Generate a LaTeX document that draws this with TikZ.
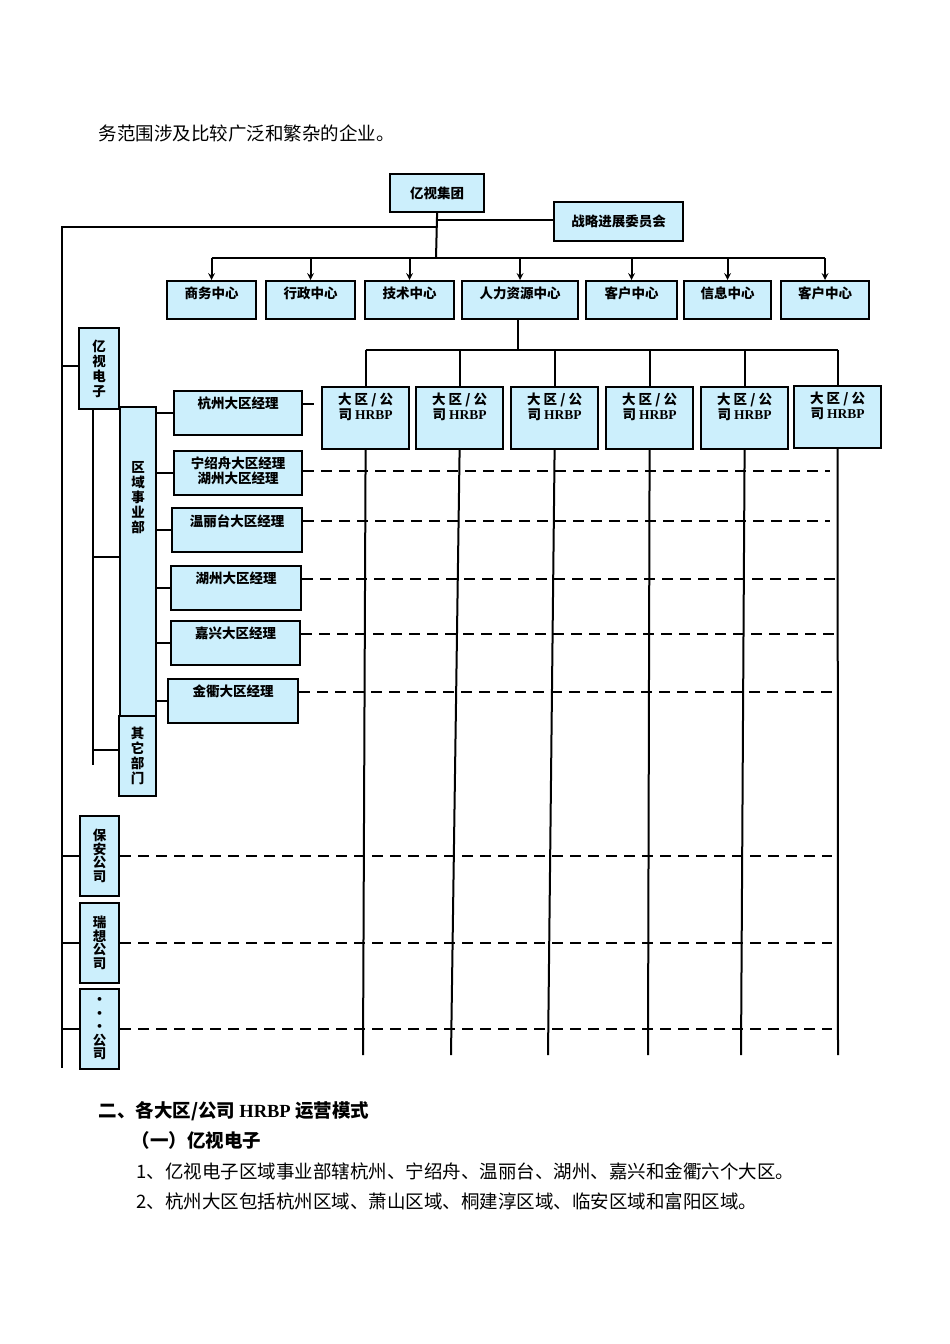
\documentclass[tikz,border=0pt]{standalone}
\usepackage{fontspec}
\setmainfont{Liberation Serif}
\newfontfamily\cjk{Noto Sans CJK SC}
\usetikzlibrary{positioning}
\tikzset{
  box/.style={draw=black,line width=2.2pt,fill=cyan!20,anchor=north west,inner sep=0pt},
  lbl/.style={font=\cjk\fontsize{13.5}{15}\selectfont\bfseries,align=center,inner sep=0pt},
  link/.style={line width=2pt,black},
  dashln/.style={line width=2pt,black,dash pattern=on 11pt off 7pt},
}
% box macro: name, x, y, width, height
\newcommand{\bx}[5]{\node[box,minimum width=#4pt,minimum height=#5pt] (#1) at (#2,#3) {};}
\begin{document}
\begin{tikzpicture}[x=1pt,y=-1pt]
  \useasboundingbox (0,0) rectangle (950,1344);
  \node[anchor=west,font=\cjk\fontsize{18.5}{20}\selectfont] (intro) at (95,133) {务范围涉及比较广泛和繁杂的企业。};

  % top
  \bx{grp}{389}{173}{94}{38}
  \node[lbl] (tgrp) at (grp.center) {亿视集团};
  \bx{cmt}{553}{201}{129}{39}
  \node[lbl] (tcmt) at (cmt.center) {战略进展委员会};
  \coordinate (hub) at (436,258);
  \coordinate (lt) at (62,227);
  \coordinate (lb) at (62,1068);
  \draw[link] (grp.south) -- (hub);
  \draw[link] (436,220) -- (cmt.west |- 436,220);
  \draw[link] (436,227) -- (lt) -- (lb);

  % centers
  \foreach \n/\x/\w/\t in {c1/166/89/商务中心,c2/265/89/行政中心,c3/364/89/技术中心,
      c4/461/116/人力资源中心,c5/585/91/客户中心,c6/683/87/信息中心,c7/780/88/客户中心}{
    \bx{\n}{\x}{280}{\w}{38}
    \node[lbl,anchor=north] (t\n) at ([yshift=-7pt]\n.north) {\t};
  }
  \draw[link] (c1.north |- hub) -- (c7.north |- hub);
  \foreach \n in {c1,c2,c3,c4,c5,c6,c7}
    \draw[link,-stealth] (\n.north |- hub) -- (\n.north);

  % HRBP
  \coordinate (hr) at (518,350);
  \draw[link] (c4.south -| hr) -- (hr);
  \foreach \n/\x/\y/\ex in {h1/321/386/363,h2/415/386/451,h3/510/386/548,
      h4/605/386/648,h5/700/386/741,h6/793/385/838}{
    \bx{\n}{\x}{\y}{87}{62}
    \node[lbl,anchor=north] (t\n) at ([yshift=-7pt]\n.north)
      {大 区 / 公\\司 {\rmfamily\bfseries HRBP}};
    \coordinate (e\n) at (\ex,1055);
    \draw[link] (\n.south) -- (e\n);
  }
  \draw[link] (h1.north |- hr) -- (h6.north |- hr);
  \foreach \n in {h1,h2,h3,h4,h5,h6}
    \draw[link] (\n.north |- hr) -- (\n.north);

  % left side
  \bx{ysdz}{78}{327}{40}{81}
  \node[lbl] (tysdz) at (ysdz.center) {亿\\视\\电\\子};
  \draw[link] (62,366) -- (ysdz.west |- 62,366);
  \coordinate (ib) at (93,765);
  \draw[link] (ysdz.south -| ib) -- (ib);
  \bx{qy}{119}{406}{36}{309}
  \node[lbl,anchor=north] (tqy) at ([yshift=-55pt]qy.north) {区\\域\\事\\业\\部};
  \bx{qt}{118}{715}{37}{80}
  \node[lbl] (tqt) at (qt.center) {其\\它\\部\\门};
  \draw[link] (93,557) -- (qy.west |- 93,557);
  \draw[link] (93,750) -- (qt.west |- 93,750);

  % managers
  \foreach \n/\x/\y/\w/\t in {m1/173/390/128/杭州大区经理,m2/173/450/128/宁绍舟大区经理\\湖州大区经理,
      m3/171/507/130/温丽台大区经理,m4/170/565/130/湖州大区经理,
      m5/170/620/129/嘉兴大区经理,m6/167/678/130/金衢大区经理}{
    \bx{\n}{\x}{\y}{\w}{44}
    \node[lbl,anchor=north] (t\n) at ([yshift=-7pt]\n.north) {\t};
    \draw[link] (qy.east |- \n.west) -- (\n.west);
  }
  \draw[dashln] (m1.east |- tm1) -- (h1.west |- tm1);
  \foreach \n/\ex in {m2/830,m3/830,m4/838,m5/838,m6/838}{
    \coordinate (d\n) at (\ex,0);
    \draw[dashln] (\n.east |- t\n) -- (d\n |- t\n);
  }

  % companies
  \foreach \n/\y/\t in {ba/815/保\\安\\公\\司,rx/902/瑞\\想\\公\\司,dd/988/·\\·\\·\\公\\司}{
    \bx{\n}{79}{\y}{39}{80}
    \node[lbl,font=\cjk\fontsize{13.5}{13.5}\selectfont\bfseries] (t\n) at (\n.center) {\t};
    \coordinate (d\n) at (832,0);
    \draw[link] (\n.west -| lb) -- (\n.west);
    \draw[dashln] (\n.east) -- (d\n |- \n.east);
  }

  % text below
  \node[anchor=west,font=\cjk\fontsize{18.5}{20}\selectfont\bfseries] (s2) at (95,1111) {二、各大区/公司 {\rmfamily\bfseries HRBP} 运营模式};
  \node[anchor=west,font=\cjk\fontsize{18.5}{20}\selectfont\bfseries] (s21) at (128,1140) {（一）亿视电子};
  \node[anchor=west,font=\cjk\fontsize{18.5}{20}\selectfont] (p1) at (133,1171) {1、亿视电子区域事业部辖杭州、宁绍舟、温丽台、湖州、嘉兴和金衢六个大区。};
  \node[anchor=west,font=\cjk\fontsize{18.5}{20}\selectfont] (p2) at (133,1201) {2、杭州大区包括杭州区域、萧山区域、桐建淳区域、临安区域和富阳区域。};
\end{tikzpicture}
\end{document}
